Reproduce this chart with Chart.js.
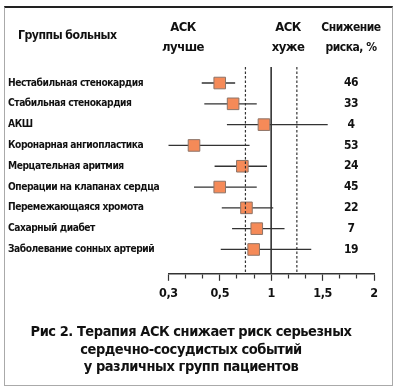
<!DOCTYPE html>
<html lang="ru">
<head>
<meta charset="UTF-8">
<title>Терапия АСК</title>
<script src="https://cdn.jsdelivr.net/npm/chart.js@4.4.1/dist/chart.umd.min.js"></script>
<style>
  body { margin: 0; background: #fff; }
  #wrap { position: relative; width: 400px; height: 388px; font-family: "Liberation Sans Narrow", "DejaVu Sans Condensed", "Roboto", sans-serif; font-weight: bold; color: #111; }
  #frame { position: absolute; left: 4px; top: 6px; width: 387px; height: 377px; border: 1px solid #aaa; border-top: 2px solid #222; }
  canvas { position: absolute; left: 0; top: 0; }
  .hd { position: absolute; font-size: 13px; letter-spacing: -0.5px; line-height: 20px; text-align: center; width: 90px; }
</style>
</head>
<body>
<div id="wrap">
  <div id="frame"></div>
  <canvas id="chart" width="400" height="388"></canvas>
  <div class="hd" style="left:18px;top:25px;width:auto;text-align:left;font-size:12.2px;">Группы больных</div>
  <div class="hd" style="left:138px;top:17px;">АСК<br>лучше</div>
  <div class="hd" style="left:243px;top:17px;">АСК<br>хуже</div>
  <div class="hd" style="left:306px;top:17px;font-size:12px;">Снижение<br>риска, %</div>
</div>
<script>
const groups = [
  'Нестабильная стенокардия',
  'Стабильная стенокардия',
  'АКШ',
  'Коронарная ангиопластика',
  'Мерцательная аритмия',
  'Операции на клапанах сердца',
  'Перемежающаяся хромота',
  'Сахарный диабет',
  'Заболевание сонных артерий'
];
const riskRatio = [0.50, 0.63, 0.93, 0.40, 0.72, 0.50, 0.76, 0.86, 0.83];
const ciLow = [0.43, 0.44, 0.57, 0.30, 0.48, 0.40, 0.52, 0.62, 0.51];
const ciHigh = [0.65, 0.86, 1.55, 0.79, 0.96, 0.86, 1.02, 1.13, 1.39];
const reduction = [46, 33, 4, 53, 24, 45, 22, 7, 19];
const tickValues = [0.3, 0.5, 1, 1.5, 2];
const tickLabels = ['0,3', '0,5', '1', '1,5', '2'];
const refLines = [0.75, 1, 1.25];

// the printed axis puts its labelled ticks at equal distances, 3 minor steps apart
function pos(v) {
  for (let i = 1; i < tickValues.length; i++) {
    if (v <= tickValues[i] || i === tickValues.length - 1) {
      const a = tickValues[i - 1], b = tickValues[i];
      return (i - 1 + (v - a) / (b - a)) * 3;
    }
  }
}

const yMin = -0.77, yMax = 9.17;
const font = '"Liberation Sans Narrow", "DejaVu Sans Condensed", "Roboto", sans-serif';
Chart.defaults.font.family = font;
Chart.defaults.color = '#111';

const bars = groups.flatMap((g, i) => [
  { x: pos(ciLow[i]), y: i },
  { x: pos(ciHigh[i]), y: i },
  { x: null, y: null }
]);

const refSets = refLines.map(v => ({
  data: [{ x: pos(v), y: yMin }, { x: pos(v), y: yMax }],
  showLine: true,
  pointRadius: 0,
  borderColor: '#333',
  borderWidth: v === 1 ? 1.6 : 1.2,
  borderDash: v === 1 ? [] : [2.5, 2],
  order: 0
}));

// the original type is a narrow face, tighten the canvas text a little
const tighten = {
  id: 'tighten',
  beforeUpdate(chart) { chart.ctx.letterSpacing = '-0.45px'; },
  beforeDraw(chart) { chart.ctx.letterSpacing = '-0.45px'; }
};

const numbersPlugin = {
  id: 'numbers',
  afterDatasetsDraw(chart) {
    const { ctx, chartArea, scales } = chart;
    ctx.save();
    ctx.font = 'bold 12px ' + font;
    ctx.fillStyle = '#111';
    ctx.textAlign = 'center';
    ctx.textBaseline = 'middle';
    reduction.forEach((r, i) => {
      ctx.fillText(String(r), chartArea.right - 23, scales.y.getPixelForValue(i));
    });
    ctx.restore();
  }
};

new Chart(document.getElementById('chart'), {
  type: 'scatter',
  data: {
    datasets: [
      ...refSets,
      {
        data: riskRatio.map((v, i) => ({ x: pos(v), y: i })),
        pointStyle: 'rect',
        pointRadius: 8.2,
        backgroundColor: '#f58a58',
        borderColor: '#8d7468',
        borderWidth: 1,
        order: 1
      },
      {
        data: bars,
        showLine: true,
        spanGaps: false,
        pointRadius: 0,
        borderColor: '#333',
        borderWidth: 1.3,
        order: 2
      }
    ]
  },
  options: {
    responsive: false,
    animation: false,
    layout: { padding: { left: 8, right: 26, top: 67, bottom: 12 } },
    plugins: {
      legend: { display: false },
      tooltip: { enabled: false },
      title: {
        display: true,
        position: 'bottom',
        text: [
          'Рис 2. Терапия АСК снижает риск серьезных',
          'сердечно-сосудистых событий',
          'у различных групп пациентов'
        ],
        font: { size: 14.5, weight: 'bold', lineHeight: 1.2 },
        color: '#111',
        padding: { top: 20, bottom: 0 }
      }
    },
    scales: {
      x: {
        type: 'linear',
        min: 0,
        max: 12,
        afterFit: s => { s.height = 30; },
        border: { display: true, color: '#333', width: 1.5 },
        grid: {
          drawOnChartArea: false,
          tickLength: 7,
          tickColor: '#333',
          tickWidth: 1.2,
          tickBorderDash: c => (c.tick && c.tick.value % 3 !== 0) ? [4, 20] : []
        },
        ticks: {
          stepSize: 1,
          autoSkip: false,
          maxRotation: 0,
          padding: 5,
          font: { size: 12.5, weight: 'bold' },
          color: '#111',
          callback: v => v % 3 === 0 ? tickLabels[v / 3] : ''
        }
      },
      y: {
        type: 'linear',
        reverse: true,
        min: yMin,
        max: yMax,
        afterBuildTicks: s => { s.ticks = groups.map((g, i) => ({ value: i })); },
        afterFit: s => { s.width = 160.3; },
        border: { display: false },
        grid: { display: false },
        ticks: {
          crossAlign: 'far',
          font: { size: 10.2, weight: 'bold' },
          color: '#111',
          callback: v => groups[v]
        }
      }
    }
  },
  plugins: [tighten, numbersPlugin]
});
</script>
</body>
</html>
